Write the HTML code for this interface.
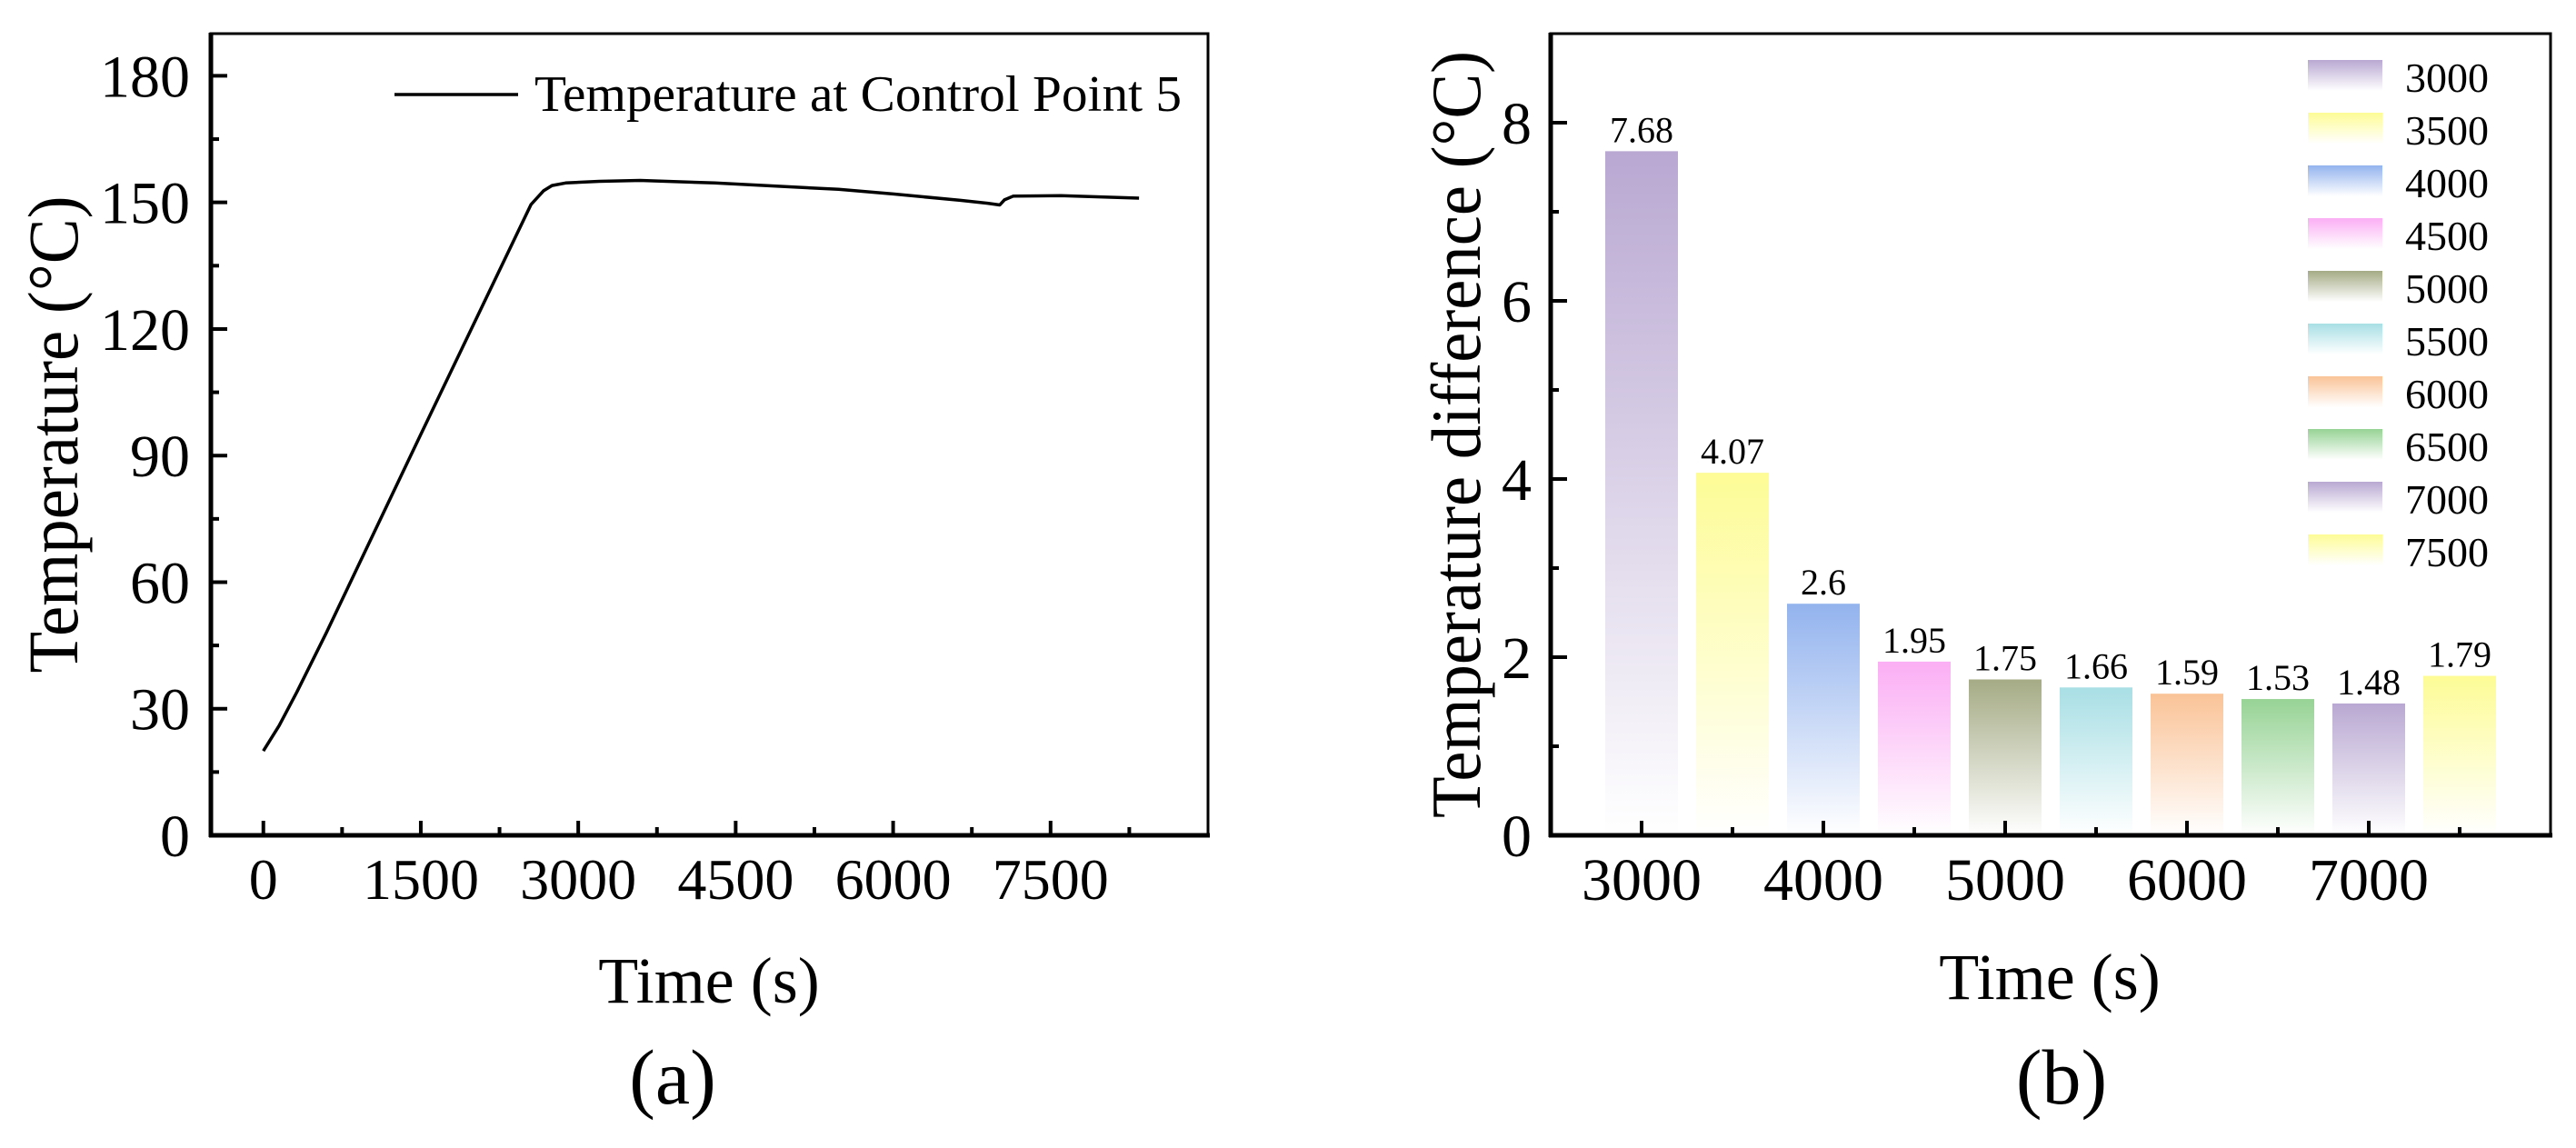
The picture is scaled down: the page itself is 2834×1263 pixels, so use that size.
<!DOCTYPE html>
<html><head><meta charset="utf-8"><style>
html,body{margin:0;padding:0;background:#fff;}
svg{display:block;font-family:"Liberation Serif","Times New Roman",serif;}
svg text{font-family:"Liberation Serif","Times New Roman",serif;}
</style></head><body>
<svg id="fig" width="2834" height="1263" viewBox="0 0 2834 1263" xmlns="http://www.w3.org/2000/svg">
<defs id="defs"></defs>
<g id="chartA"></g>
<g id="chartB"></g>
</svg>
<script>
// ---- Chart (a) data ----
const lineTimes = [0,150,320,600,1500,2550,2671,2750,2880,3200,3590,4300,5480,6000,6640,6900,7016,7060,7146,7600,8343];
const lineTemps = [20,26,34,48,95,149.5,152.8,154,154.6,155,155.2,154.6,153.1,152,150.5,149.8,149.4,150.6,151.5,151.6,151.0];
const aXTicks = [0,1500,3000,4500,6000,7500];
const aXMinor = [750,2250,3750,5250,6750,8250];
const aYTicks = [0,30,60,90,120,150,180];
const aYMinor = [15,45,75,105,135,165];
// ---- Chart (b) data ----
const barCats = [3000,3500,4000,4500,5000,5500,6000,6500,7000,7500];
const barVals = [7.68,4.07,2.6,1.95,1.75,1.66,1.59,1.53,1.48,1.79];
const barLabels = ["7.68","4.07","2.6","1.95","1.75","1.66","1.59","1.53","1.48","1.79"];
const barColors = ["#b9a8d2","#fdfc96","#93b3ee","#fbaef4","#a5ab85","#a8dfe5","#fac397","#97d395","#b9a8d2","#fdfc96"];
const bXTicks = [3000,4000,5000,6000,7000];
const bXMinor = [3500,4500,5500,6500,7500];
const bYTicks = [0,2,4,6,8];
const bYMinor = [1,3,5,7];

const NS="http://www.w3.org/2000/svg";
const FF='"Liberation Serif","Times New Roman",serif';
function mk(parent,tag,attrs,txt){const e=document.createElementNS(NS,tag);for(const k in attrs)e.setAttribute(k,attrs[k]);if(tag==='text')e.setAttribute('font-family',FF);if(txt!==undefined)e.textContent=txt;parent.appendChild(e);return e;}

// ===== Chart A =====
(function(){
const g=document.getElementById('chartA');
const L=232,R=1329,T=37,B=919;
const xA=t=>L+(t-(-500))/(9000-(-500))*(R-L);
const yA=v=>B-(v-0)/(190-0)*(B-T);
let e=mk(g,'rect',{x:L,y:T,width:R-L,height:B-T,fill:'none',stroke:'#000','stroke-width':3});


e=mk(g,'line',{x1:L,y1:T-1,x2:L,y2:B+2,stroke:'#000','stroke-width':5});


e=mk(g,'line',{x1:L-2,y1:B,x2:R+2,y2:B,stroke:'#000','stroke-width':5});


aXTicks.forEach(t=>{
  e=mk(g,'line',{x1:xA(t),y1:B,x2:xA(t),y2:B-16,stroke:'#000','stroke-width':4});
  
  
  e=mk(g,'text',{x:xA(t),y:989,'font-size':64,'text-anchor':'middle'},String(t));
  
  
});
aXMinor.forEach(t=>{
  e=mk(g,'line',{x1:xA(t),y1:B,x2:xA(t),y2:B-9,stroke:'#000','stroke-width':4});
  
  
});
aYTicks.forEach(v=>{
  e=mk(g,'line',{x1:L,y1:yA(v),x2:L+18,y2:yA(v),stroke:'#000','stroke-width':4});
  
  
  e=mk(g,'text',{x:209,y:yA(v)+23,'font-size':66,'text-anchor':'end'},String(v));
  
  
});
aYMinor.forEach(v=>{
  e=mk(g,'line',{x1:L,y1:yA(v),x2:L+9,y2:yA(v),stroke:'#000','stroke-width':4});
  
  
});
const d=lineTimes.map((t,i)=>(i?'L':'M')+xA(t).toFixed(1)+','+yA(lineTemps[i]).toFixed(1)).join(' ');
e=mk(g,'path',{d:d,fill:'none',stroke:'#000','stroke-width':3.5,'stroke-linejoin':'round'});


e=mk(g,'line',{x1:434,y1:104,x2:570,y2:104,stroke:'#000','stroke-width':3.5});


e=mk(g,'text',{x:588,y:122,'font-size':56,textLength:712,lengthAdjust:'spacingAndGlyphs'},'Temperature at Control Point 5');


e=mk(g,'text',{x:0,y:0,'font-size':78,'text-anchor':'middle',transform:'translate(85,478) rotate(-90)',textLength:525,lengthAdjust:'spacingAndGlyphs'},'Temperature (°C)');


e=mk(g,'text',{x:780,y:1103,'font-size':72,'text-anchor':'middle'},'Time (s)');


e=mk(g,'text',{x:740,y:1214,'font-size':86,'text-anchor':'middle'},'(a)');


})();

// ===== Chart B =====
(function(){
const g=document.getElementById('chartB');
const defs=document.getElementById('defs');
const L=1706,R=2806,T=37,B=919;
const xB=t=>L+(t-2500)/(8000-2500)*(R-L);
const yB=v=>B-(v-0)/(9-0)*(B-T);
barColors.forEach((c,i)=>{
  const lg=mk(defs,'linearGradient',{id:'grad'+i,x1:0,y1:0,x2:0,y2:1});
  mk(lg,'stop',{offset:'0','stop-color':c});
  mk(lg,'stop',{offset:'1','stop-color':'#ffffff'});
});
let e;
const bw=80;
barCats.forEach((c,i)=>{
  e=mk(g,'rect',{x:xB(c)-bw/2,y:yB(barVals[i]),width:bw,height:B-yB(barVals[i]),fill:'url(#grad'+i+')'});
  
  
  e=mk(g,'text',{x:xB(c),y:yB(barVals[i])-10,'font-size':40,'text-anchor':'middle'},barLabels[i]);
  
  
});
e=mk(g,'rect',{x:L,y:T,width:R-L,height:B-T,fill:'none',stroke:'#000','stroke-width':3});


e=mk(g,'line',{x1:L,y1:T-1,x2:L,y2:B+2,stroke:'#000','stroke-width':5});


e=mk(g,'line',{x1:L-2,y1:B,x2:R+2,y2:B,stroke:'#000','stroke-width':5});


bXTicks.forEach(t=>{
  e=mk(g,'line',{x1:xB(t),y1:B,x2:xB(t),y2:B-16,stroke:'#000','stroke-width':4});
  
  
  e=mk(g,'text',{x:xB(t),y:990,'font-size':66,'text-anchor':'middle'},String(t));
  
  
});
bXMinor.forEach(t=>{
  e=mk(g,'line',{x1:xB(t),y1:B,x2:xB(t),y2:B-9,stroke:'#000','stroke-width':4});
  
  
});
bYTicks.forEach(v=>{
  e=mk(g,'line',{x1:L,y1:yB(v),x2:L+18,y2:yB(v),stroke:'#000','stroke-width':4});
  
  
  e=mk(g,'text',{x:1685,y:yB(v)+23,'font-size':66,'text-anchor':'end'},String(v));
  
  
});
bYMinor.forEach(v=>{
  e=mk(g,'line',{x1:L,y1:yB(v),x2:L+9,y2:yB(v),stroke:'#000','stroke-width':4});
  
  
});
barCats.forEach((c,i)=>{
  const y0=66+i*58;
  e=mk(g,'rect',{x:2539,y:y0,width:82,height:34,fill:'url(#grad'+i+')'});
  
  
  e=mk(g,'text',{x:2646,y:y0+35,'font-size':46},String(c));
  
  
});
e=mk(g,'text',{x:0,y:0,'font-size':77,'text-anchor':'middle',transform:'translate(1628,478) rotate(-90)',textLength:844,lengthAdjust:'spacingAndGlyphs'},'Temperature difference (°C)');


e=mk(g,'text',{x:2255,y:1099,'font-size':72,'text-anchor':'middle'},'Time (s)');


e=mk(g,'text',{x:2268,y:1214,'font-size':86,'text-anchor':'middle'},'(b)');


})();
</script>
</body></html>
